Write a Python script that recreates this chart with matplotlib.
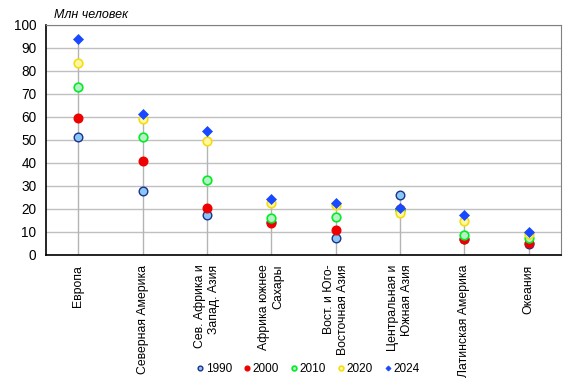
import matplotlib
matplotlib.use("Agg")
import matplotlib.pyplot as plt
import numpy as np

plt.rcParams['font.family'] = ['Liberation Sans', 'DejaVu Sans']

regions = ["Европа", "Северная Америка", "Сев. Африка и\nЗапад. Азия", "Африка южнее\nСахары",
           "Вост. и Юго-\nВосточная Азия", "Центральная и\nЮжная Азия", "Латинская Америка", "Океания"]
years = ["1990", "2000", "2010", "2020", "2024"]
v1990 = [51.5, 27.8, 17.5, 14.2, 7.4, 25.9, 7.0, 4.7]
v2000 = [59.5, 40.8, 20.5, 13.8, 10.9, 19.8, 6.8, 5.2]
v2010 = [73.0, 51.2, 32.5, 16.0, 16.3, 19.6, 8.7, 7.5]
v2020 = [83.3, 58.9, 49.5, 22.5, 21.6, 18.3, 14.8, 9.0]
v2024 = [94.0, 61.2, 54.0, 24.3, 22.6, 20.3, 17.4, 10.0]

series = [v1990, v2000, v2010, v2020, v2024]
styles = [
    dict(marker='o', mfc='#87c8f5', mec='#1f2f8f', ms=6.2, mew=1.0),
    dict(marker='o', mfc='#ee0000', mec='#ee0000', ms=6.2, mew=1.0),
    dict(marker='o', mfc='#b8f0c8', mec='#00ee22', ms=6.2, mew=1.2),
    dict(marker='o', mfc='#fff8a0', mec='#f5dc10', ms=6.2, mew=1.2),
    dict(marker='D', mfc='#1848ff', mec='#1848ff', ms=4.8, mew=0.5),
]

fig = plt.figure(figsize=(5.75, 3.88), dpi=100)
ax = fig.add_axes([0.08, 0.343, 0.8957, 0.5926])

x = np.arange(len(regions))
tops = np.max(np.array(series), axis=0)
ax.vlines(x, 0, tops, color='#b4b4b4', lw=1.0, zorder=1)

for vals, yr, st in zip(series, years, styles):
    ax.plot(x, vals, ls='none', label=yr, zorder=3, **st)

ax.set_xlim(-0.5, len(regions) - 0.5)
ax.set_ylim(0, 100)
ax.set_yticks(np.arange(0, 101, 10))
ax.yaxis.grid(True, color='#c0c0c0', lw=1.0)
ax.set_axisbelow(True)
ax.set_xticks(x)
ax.set_xticklabels(regions, rotation=90, va='top', ha='center', multialignment='right', fontsize=8.8)
ax.tick_params(axis='x', length=0, pad=7)
ax.tick_params(axis='y', length=0, pad=7, labelsize=9.8)

ax.spines['left'].set_color('black')
ax.spines['bottom'].set_color('black')
ax.spines['top'].set_color('#808080')
ax.spines['right'].set_color('#808080')
ax.spines['bottom'].set_linewidth(1.2)
ax.spines['left'].set_linewidth(1.2)

fig.text(0.094, 0.961, "Млн человек", fontsize=9, style='italic', ha='left', va='center')

leg = fig.legend(loc='center', bbox_to_anchor=(0.535, 0.049), ncol=5, frameon=False,
                 fontsize=8.5, markerscale=0.55, handletextpad=0.05, columnspacing=0.9,
                 handlelength=0.8)

plt.savefig("out.png", dpi=100)
